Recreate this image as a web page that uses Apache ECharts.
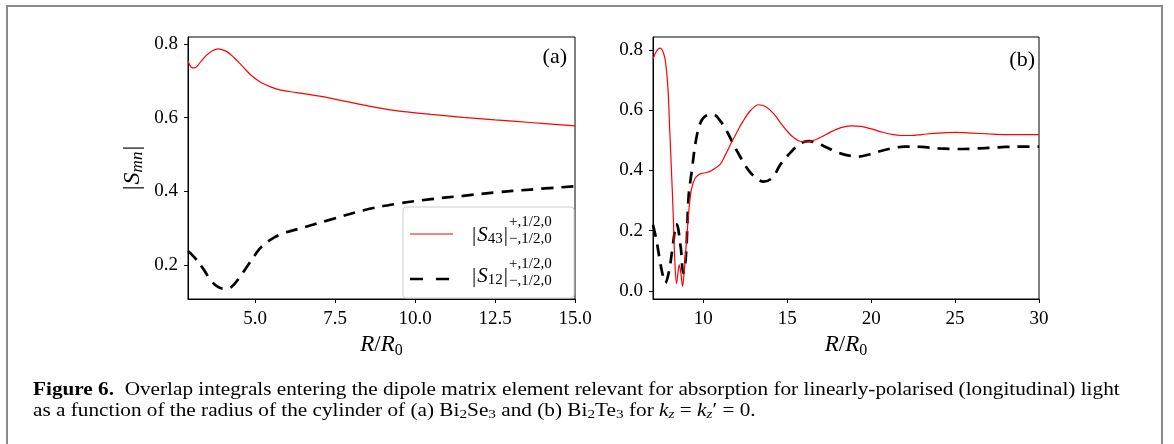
<!DOCTYPE html>
<html><head><meta charset="utf-8">
<script src="https://cdn.jsdelivr.net/npm/echarts@6/dist/echarts.min.js"></script>
<style>html,body{margin:0;padding:0;background:#fff}#c{width:1174px;height:444px}</style>
</head><body><div id="c"></div>
<script>
// ---- Panel (a): Bi2Se3 ----
const aS43X = [2.9, 3.0, 3.1, 3.3, 3.55, 3.85, 4.1, 4.35, 4.6, 4.9, 5.2, 5.5, 5.8, 6.3, 7.3, 8.4, 9.4, 10.5, 11.5, 12.5, 13.6, 15.0];
const aS43Y = [0.755, 0.737, 0.735, 0.752, 0.775, 0.787, 0.780, 0.762, 0.740, 0.713, 0.695, 0.683, 0.675, 0.668, 0.654, 0.634, 0.619, 0.609, 0.601, 0.594, 0.587, 0.578];
const aS12X = [2.9, 3.1, 3.4, 3.6, 3.85, 4.05, 4.25, 4.5, 4.7, 5.0, 5.2, 5.6, 5.9, 6.3, 7.3, 8.4, 9.4, 10.5, 11.5, 12.5, 13.6, 15.0];
const aS12Y = [0.238, 0.221, 0.187, 0.160, 0.140, 0.136, 0.140, 0.165, 0.190, 0.228, 0.250, 0.275, 0.287, 0.297, 0.322, 0.349, 0.366, 0.379, 0.388, 0.397, 0.405, 0.414];
// ---- Panel (b): Bi2Te3 ----
const bS43X = [7.0, 7.2, 7.4, 7.55, 7.7, 7.8, 7.9, 8.0, 8.1, 8.2, 8.3, 8.4, 8.5, 8.57, 8.67, 8.76, 8.87, 8.97, 9.07, 9.16, 9.3, 9.5, 9.7, 9.9, 10.2, 10.5, 11.0, 11.3, 11.65, 12.0, 12.35, 12.8, 13.3, 13.7, 14.2, 14.6, 15.0, 15.4, 15.8, 16.2, 16.6, 17.0, 17.6, 18.2, 18.8, 19.4, 20.0, 20.6, 21.2, 21.8, 22.4, 23.0, 24.0, 25.0, 26.0, 27.0, 28.0, 29.0, 30.0];
const bS43Y = [0.770, 0.795, 0.806, 0.800, 0.775, 0.735, 0.665, 0.530, 0.400, 0.260, 0.100, 0.025, 0.065, 0.086, 0.055, 0.015, 0.070, 0.147, 0.220, 0.280, 0.340, 0.373, 0.385, 0.390, 0.393, 0.400, 0.420, 0.450, 0.490, 0.527, 0.562, 0.598, 0.618, 0.612, 0.588, 0.558, 0.530, 0.508, 0.496, 0.495, 0.500, 0.510, 0.528, 0.542, 0.548, 0.546, 0.538, 0.528, 0.520, 0.516, 0.516, 0.519, 0.524, 0.526, 0.524, 0.521, 0.519, 0.519, 0.519];
const bS12X = [7.0, 7.2, 7.37, 7.55, 7.73, 7.97, 8.17, 8.3, 8.37, 8.47, 8.57, 8.67, 8.8, 8.9, 9.0, 9.12, 9.32, 9.56, 9.86, 10.26, 10.6, 11.0, 11.4, 12.0, 12.7, 13.2, 13.6, 14.1, 14.6, 15.2, 15.8, 16.3, 16.8, 17.4, 18.0, 18.6, 19.2, 19.8, 20.4, 21.2, 22.0, 23.0, 24.0, 25.0, 26.0, 27.0, 28.0, 29.0, 30.0];
const bS12Y = [0.219, 0.170, 0.114, 0.060, 0.026, 0.070, 0.147, 0.200, 0.222, 0.215, 0.180, 0.136, 0.059, 0.080, 0.150, 0.313, 0.402, 0.500, 0.562, 0.584, 0.585, 0.565, 0.530, 0.465, 0.400, 0.372, 0.363, 0.375, 0.420, 0.460, 0.490, 0.497, 0.490, 0.475, 0.460, 0.450, 0.446, 0.452, 0.462, 0.473, 0.479, 0.478, 0.473, 0.471, 0.472, 0.475, 0.478, 0.479, 0.479];
// ---- Tick labels ----
const aXTicks = [5.0, 7.5, 10.0, 12.5, 15.0];
const aYTicks = [0.2, 0.4, 0.6, 0.8];
const bXTicks = [10, 15, 20, 25, 30];
const bYTicks = [0.0, 0.2, 0.4, 0.6, 0.8];

const SERIF = "'Liberation Serif', 'DejaVu Serif', serif";
const zip = (xs, ys) => xs.map((x, i) => [x, ys[i]]);
const RED = '#ff0000';
const DASH = [12, 8];
const TICKFS = 19;

function xAxisDef(gi, min, max, ticks, fmt) {
  return {
    type: 'value', gridIndex: gi, min: min, max: max,
    name: '{i|R}{r|/}{i|R}{n|0}', nameLocation: 'middle', nameGap: 32,
    nameTextStyle: { rich: {
      i: { fontFamily: SERIF, fontStyle: 'italic', fontSize: 23, lineHeight: 26, color: '#000' },
      r: { fontFamily: SERIF, fontSize: 23, lineHeight: 26, color: '#000' },
      n: { fontFamily: SERIF, fontSize: 16, lineHeight: 14, verticalAlign: 'bottom', color: '#000' }
    } },
    axisLine: { show: true, onZero: false, lineStyle: { color: '#000', width: 1 } },
    axisTick: { show: true, length: 4, lineStyle: { color: '#000' }, customValues: ticks },
    axisLabel: { show: true, margin: 11, fontFamily: SERIF, fontSize: TICKFS, color: '#000', customValues: ticks, formatter: fmt },
    splitLine: { show: false }
  };
}
function yAxisDef(gi, min, max, ticks, withName) {
  const o = {
    type: 'value', gridIndex: gi, min: min, max: max,
    axisLine: { show: true, onZero: false, lineStyle: { color: '#000', width: 1 } },
    axisTick: { show: true, length: 4, lineStyle: { color: '#000' }, customValues: ticks },
    axisLabel: { show: true, margin: 10, fontFamily: SERIF, fontSize: TICKFS, color: '#000', customValues: ticks, formatter: v => v.toFixed(1) },
    splitLine: { show: false }
  };
  if (withName) {
    o.name = '{b||}{i|S}{n|mn}{b||}';
    o.nameLocation = 'middle';
    o.nameGap = 42;
    o.nameRotate = 90;
    o.nameTextStyle = { rich: {
      b: { fontFamily: SERIF, fontSize: 24, lineHeight: 26, color: '#000', padding: [0, 1, 0, 1] },
      i: { fontFamily: SERIF, fontStyle: 'italic', fontSize: 24, lineHeight: 26, color: '#000' },
      n: { fontFamily: SERIF, fontStyle: 'italic', fontSize: 17, lineHeight: 15, verticalAlign: 'bottom', color: '#000' }
    } };
  }
  return o;
}

const chart = echarts.init(document.getElementById('c'), null, { renderer: 'canvas' });

const legRich = {
  b: { fontFamily: SERIF, fontSize: 21, lineHeight: 24, color: '#000', padding: [0, 1, 0, 1] },
  i: { fontFamily: SERIF, fontStyle: 'italic', fontSize: 21, lineHeight: 24, color: '#000' },
  n: { fontFamily: SERIF, fontSize: 15, lineHeight: 13, verticalAlign: 'bottom', color: '#000' }
};
const scriptStyle = { fontFamily: SERIF, fontSize: 15, lineHeight: 17, fill: '#000' };

const CAPFS = 18;
const capRich = {
  b: { fontFamily: SERIF, fontWeight: 'bold', fontSize: CAPFS, lineHeight: 20, color: '#222' },
  t: { fontFamily: SERIF, fontSize: CAPFS, lineHeight: 20, color: '#222' },
  i: { fontFamily: SERIF, fontStyle: 'italic', fontSize: CAPFS, lineHeight: 20, color: '#222' },
  s: { fontFamily: SERIF, fontSize: 13, lineHeight: 12, verticalAlign: 'bottom', color: '#222' },
  si: { fontFamily: SERIF, fontStyle: 'italic', fontSize: 13, lineHeight: 12, verticalAlign: 'bottom', color: '#222' }
};
const CAPSX = 1.18;

chart.setOption({
  animation: false,
  backgroundColor: '#fff',
  grid: [
    { left: 188, top: 37, width: 387, height: 262, show: true, borderColor: '#000', borderWidth: 1, containLabel: false },
    { left: 653, top: 37, width: 386, height: 262, show: true, borderColor: '#000', borderWidth: 1, containLabel: false }
  ],
  xAxis: [
    xAxisDef(0, 2.9, 15, aXTicks, v => v.toFixed(1)),
    xAxisDef(1, 7, 30, bXTicks, v => String(Math.round(v)))
  ],
  yAxis: [
    yAxisDef(0, 0.108, 0.819, aYTicks, true),
    yAxisDef(1, -0.027, 0.843, bYTicks, false)
  ],
  series: [
    { type: 'line', xAxisIndex: 0, yAxisIndex: 0, data: zip(aS43X, aS43Y), showSymbol: false, smooth: 0.4, lineStyle: { color: RED, width: 1.2 }, z: 3 },
    { type: 'line', xAxisIndex: 0, yAxisIndex: 0, data: zip(aS12X, aS12Y), showSymbol: false, smooth: 0.4, lineStyle: { color: '#000', width: 2.7, type: DASH }, z: 2 },
    { type: 'line', xAxisIndex: 1, yAxisIndex: 1, data: zip(bS43X, bS43Y), showSymbol: false, smooth: 0.35, lineStyle: { color: RED, width: 1.2 }, z: 3 },
    { type: 'line', xAxisIndex: 1, yAxisIndex: 1, data: zip(bS12X, bS12Y), showSymbol: false, smooth: 0.35, lineStyle: { color: '#000', width: 2.7, type: DASH }, z: 2 }
  ],
  graphic: [
    { type: 'rect', shape: { x: 7, y: 6, width: 1155, height: 480 }, style: { fill: 'none', stroke: '#8a8a8a', lineWidth: 2 }, silent: true },
    { type: 'text', x: 567, y: 57, style: { text: '(a)', fontFamily: SERIF, fontSize: 22, fill: '#000', align: 'right', verticalAlign: 'middle' } },
    { type: 'text', x: 1035, y: 60, style: { text: '(b)', fontFamily: SERIF, fontSize: 22, fill: '#000', align: 'right', verticalAlign: 'middle' } },
    // legend
    { type: 'rect', z: 10, shape: { x: 403, y: 207, width: 171, height: 91, r: 3 }, style: { fill: 'rgba(255,255,255,0.85)', stroke: '#cccccc', lineWidth: 1 } },
    { type: 'line', z: 11, shape: { x1: 410, y1: 234, x2: 453, y2: 234 }, style: { stroke: RED, lineWidth: 1.2 } },
    { type: 'line', z: 11, shape: { x1: 410, y1: 279, x2: 453, y2: 279 }, style: { stroke: '#000', lineWidth: 2.7, lineDash: [13, 13] } },
    { type: 'text', z: 11, x: 471, y: 235, style: { text: '{b||}{i|S}{n|43}{b||}', rich: legRich, verticalAlign: 'middle' } },
    { type: 'text', z: 11, x: 509, y: 231, style: Object.assign({ text: '+,1/2,0\n\u2212,1/2,0', verticalAlign: 'middle' }, scriptStyle) },
    { type: 'text', z: 11, x: 471, y: 276, style: { text: '{b||}{i|S}{n|12}{b||}', rich: legRich, verticalAlign: 'middle' } },
    { type: 'text', z: 11, x: 509, y: 273, style: Object.assign({ text: '+,1/2,0\n\u2212,1/2,0', verticalAlign: 'middle' }, scriptStyle) },
    // caption
    { type: 'text', x: 33, y: 390, scaleX: CAPSX, style: { text: '{b|Figure 6.}{t|  Overlap integrals entering the dipole matrix element relevant for absorption for linearly-polarised (longitudinal) light}', rich: capRich, verticalAlign: 'middle' } },
    { type: 'text', x: 33, y: 411, scaleX: CAPSX, style: { text: '{t|as a function of the radius of the cylinder of (a) Bi}{s|2}{t|Se}{s|3}{t| and (b) Bi}{s|2}{t|Te}{s|3}{t| for }{i|k}{si|z}{t| = }{i|k}{si|z}{t|\u2032 = 0.}', rich: capRich, verticalAlign: 'middle' } }
  ]
});
</script>
</body></html>
